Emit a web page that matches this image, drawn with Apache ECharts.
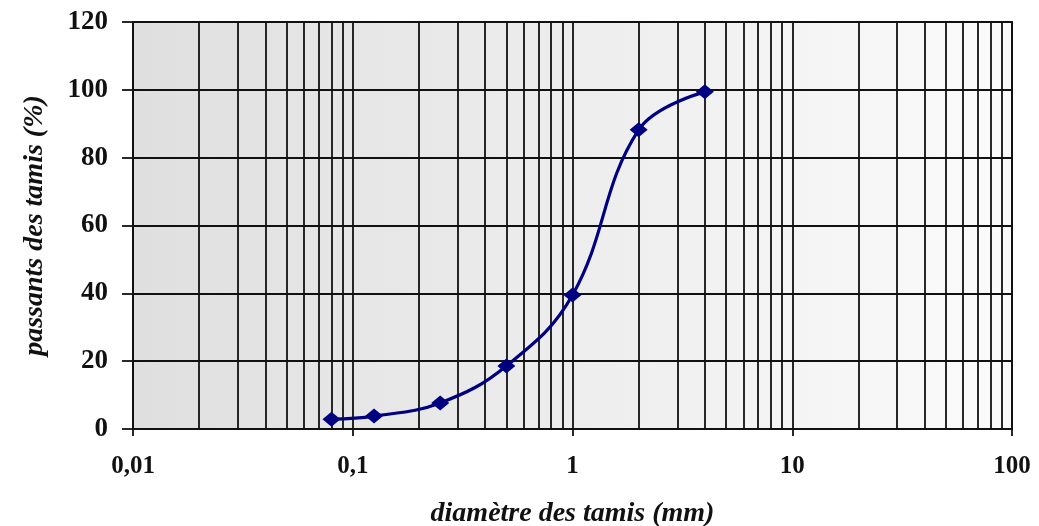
<!DOCTYPE html>
<html>
<head>
<meta charset="utf-8">
<script src="https://cdn.jsdelivr.net/npm/echarts@6/dist/echarts.min.js"></script>
<style>html,body{margin:0;padding:0;background:#fff;}#c{width:1039px;height:526px;}</style>
</head>
<body>
<div id="c"></div>
<script>
// Sieve diameters (mm) and percent passing
const diameters = [0.08, 0.125, 0.25, 0.5, 1, 2, 4];
const passing = [2.9, 3.8, 7.7, 18.6, 39.5, 88.2, 99.4];
// Vertical log grid lines (between decades)
const minorGrid = [0.02,0.03,0.04,0.05,0.06,0.07,0.08,0.09,
                   0.2,0.3,0.4,0.5,0.6,0.7,0.8,0.9,
                   2,3,4,5,6,7,8,9,
                   20,30,40,50,60,70,80,90];
const xTitle = 'diamètre des tamis (mm)';
const yTitle = 'passants des tamis (%)';

const chart = echarts.init(document.getElementById('c'), null, {renderer:'canvas'});
const ink = '#111';
const serif = '"Liberation Serif", "DejaVu Serif", serif';
chart.setOption({
  animation: false,
  grid: {
    left: 133, right: 27, top: 22, bottom: 97,
    containLabel: false, outerBoundsMode: 'none',
    show: true,
    borderColor: ink, borderWidth: 1.8,
    backgroundColor: {type:'linear', x:0, y:0, x2:1, y2:0,
      colorStops:[{offset:0,color:'#dfdfdf'},{offset:1,color:'#fbfbfb'}]}
  },
  xAxis: {
    type: 'log', logBase: 10, min: 0.01, max: 100,
    name: xTitle, nameLocation: 'middle', nameGap: 71,
    nameTextStyle: {fontFamily: serif, fontStyle:'italic', fontWeight:'bold', fontSize: 28, color: ink},
    axisLine: {show: true, lineStyle: {color: ink, width: 1.8}},
    axisTick: {show: true, length: 7, lineStyle: {color: ink, width: 1.8}},
    splitLine: {show: true, lineStyle: {color: ink, width: 1.8}},
    axisLabel: {margin: 25, fontFamily: serif, fontWeight:'bold', fontSize: 25, color: ink,
      formatter: v => String(v).replace('.', ',')}
  },
  yAxis: {
    type: 'value', min: 0, max: 120, interval: 20,
    name: yTitle, nameLocation: 'middle', nameGap: 84,
    nameTextStyle: {fontFamily: serif, fontStyle:'italic', fontWeight:'bold', fontSize: 28, color: ink},
    axisLine: {show: true, lineStyle: {color: ink, width: 1.8}},
    axisTick: {show: true, length: 11, lineStyle: {color: ink, width: 1.8}},
    splitLine: {show: true, lineStyle: {color: ink, width: 1.8}},
    axisLabel: {margin: 25, fontFamily: serif, fontWeight:'bold', fontSize: 27, color: ink}
  },
  series: [
    {
      type: 'line', data: [], z: 1, silent: true,
      markLine: {
        silent: true, symbol: ['none','none'], label: {show:false},
        lineStyle: {type:'solid', color: ink, width: 1.8},
        data: minorGrid.map(v => ({xAxis: v}))
      }
    },
    {
      type: 'line', z: 5,
      data: diameters.map((d,i) => [d, passing[i]]),
      smooth: 0.4,
      symbol: 'diamond', symbolSize: [18, 15],
      itemStyle: {color: '#000080'},
      lineStyle: {color: '#000080', width: 3.2}
    }
  ]
});
</script>
</body>
</html>
